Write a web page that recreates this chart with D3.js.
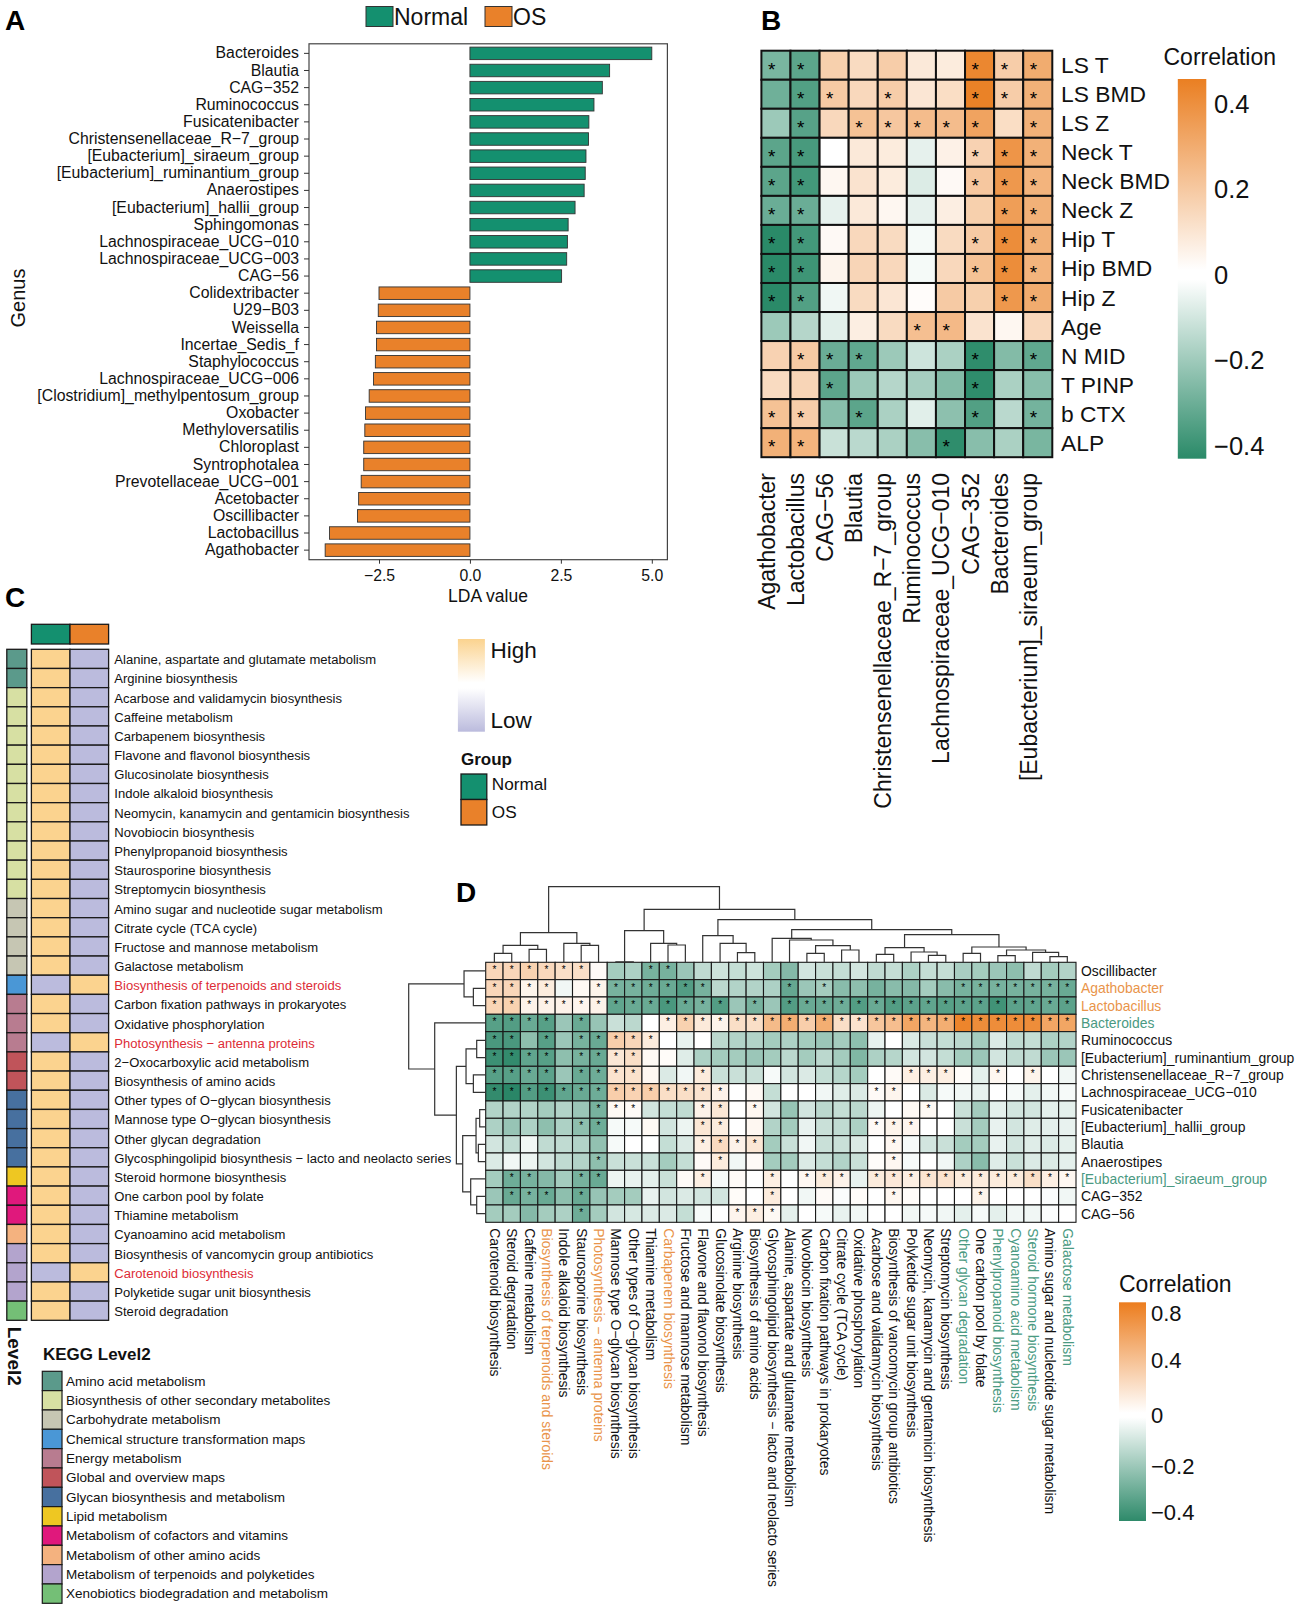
<!DOCTYPE html>
<html><head><meta charset="utf-8">
<script src="https://d3js.org/d3.v7.min.js"></script>
<style>
html,body{margin:0;padding:0;background:#fff}
text{font-family:"Liberation Sans",Arial,sans-serif;fill:#111}
</style></head><body>
<script>
// ---------- Panel A ----------
const ldaGenera=["Bacteroides","Blautia","CAG−352","Ruminococcus","Fusicatenibacter","Christensenellaceae_R−7_group","[Eubacterium]_siraeum_group","[Eubacterium]_ruminantium_group","Anaerostipes","[Eubacterium]_hallii_group","Sphingomonas","Lachnospiraceae_UCG−010","Lachnospiraceae_UCG−003","CAG−56","Colidextribacter","U29−B03","Weissella","Incertae_Sedis_f","Staphylococcus","Lachnospiraceae_UCG−006","[Clostridium]_methylpentosum_group","Oxobacter","Methyloversatilis","Chloroplast","Syntrophotalea","Prevotellaceae_UCG−001","Acetobacter","Oscillibacter","Lactobacillus","Agathobacter"];
const ldaValues=[5.0,3.84,3.64,3.41,3.27,3.26,3.19,3.17,3.14,2.89,2.70,2.68,2.66,2.52,-2.5,-2.52,-2.57,-2.57,-2.60,-2.65,-2.77,-2.87,-2.89,-2.92,-2.92,-2.99,-3.06,-3.09,-3.86,-3.98];
const ldaTicks=[-2.5,0,2.5,5];
const groupNames=["Normal","OS"];
const groupColors=["#14906f","#e9812a"];

// ---------- Panel B ----------
const corrRows=["LS T","LS BMD","LS Z","Neck T","Neck BMD","Neck Z","Hip T","Hip BMD","Hip Z","Age","N MID","T PINP","b CTX","ALP"];
const corrCols=["Agathobacter","Lactobacillus","CAG−56","Blautia","Christensenellaceae_R−7_group","Ruminococcus","Lachnospiraceae_UCG−010","CAG−352","Bacteroides","[Eubacterium]_siraeum_group"];
const corrValues=[
[-.27,-.33,.17,.13,.18,.08,.07,.43,.18,.30],
[-.29,-.35,.19,.14,.18,.09,.12,.45,.18,.28],
[-.20,-.34,.14,.22,.20,.24,.24,.33,.12,.28],
[-.33,-.37,0,.08,.07,-.05,.05,.16,.38,.28],
[-.33,-.38,.03,.10,.07,-.07,.02,.20,.37,.27],
[-.30,-.30,-.05,.08,.03,-.05,.06,.17,.35,.28],
[-.43,-.38,.02,.14,.13,-.02,.13,.19,.41,.28],
[-.43,-.39,.04,.15,.14,-.02,.14,.22,.41,.27],
[-.43,-.35,-.03,.13,.09,.01,.19,.17,.37,.30],
[-.20,-.15,-.06,.06,.13,.23,.25,.10,.03,.14],
[.16,.19,-.30,-.32,-.20,-.10,-.17,-.42,-.25,-.32],
[.13,.15,-.33,-.20,-.15,-.18,-.25,-.42,-.17,-.24],
[.22,.18,-.24,-.33,-.17,-.06,-.23,-.35,-.14,-.28],
[.28,.27,-.11,-.14,-.17,-.24,-.42,-.24,-.17,-.27]];
const corrStars=[[0,1,7,8,9],[1,2,4,7,8,9],[1,3,4,5,6,7,9],[0,1,7,8,9],[0,1,7,8,9],[0,1,8,9],[0,1,7,8,9],[0,1,7,8,9],[0,1,8,9],[5,6],[1,2,3,7,9],[2,7],[0,1,3,7,9],[0,1,6]];
const corrTicks=[0.4,0.2,0,-0.2,-0.4];

// ---------- Panel C ----------
const pathways=["Alanine, aspartate and glutamate metabolism","Arginine biosynthesis","Acarbose and validamycin biosynthesis","Caffeine metabolism","Carbapenem biosynthesis","Flavone and flavonol biosynthesis","Glucosinolate biosynthesis","Indole alkaloid biosynthesis","Neomycin, kanamycin and gentamicin biosynthesis","Novobiocin biosynthesis","Phenylpropanoid biosynthesis","Staurosporine biosynthesis","Streptomycin biosynthesis","Amino sugar and nucleotide sugar metabolism","Citrate cycle (TCA cycle)","Fructose and mannose metabolism","Galactose metabolism","Biosynthesis of terpenoids and steroids","Carbon fixation pathways in prokaryotes","Oxidative phosphorylation","Photosynthesis − antenna proteins","2−Oxocarboxylic acid metabolism","Biosynthesis of amino acids","Other types of O−glycan biosynthesis","Mannose type O−glycan biosynthesis","Other glycan degradation","Glycosphingolipid biosynthesis − lacto and neolacto series","Steroid hormone biosynthesis","One carbon pool by folate","Thiamine metabolism","Cyanoamino acid metabolism","Biosynthesis of vancomycin group antibiotics","Carotenoid biosynthesis","Polyketide sugar unit biosynthesis","Steroid degradation"];
const pathwayLevel=[0,0,1,1,1,1,1,1,1,1,1,1,1,2,2,2,2,3,4,4,4,5,5,6,6,6,6,7,8,8,9,10,10,10,11];
const pathwayHigherInOS=[17,20,32];
const keggNames=["Amino acid metabolism","Biosynthesis of other secondary metabolites","Carbohydrate metabolism","Chemical structure transformation maps","Energy metabolism","Global and overview maps","Glycan biosynthesis and metabolism","Lipid metabolism","Metabolism of cofactors and vitamins","Metabolism of other amino acids","Metabolism of terpenoids and polyketides","Xenobiotics biodegradation and metabolism"];
const keggColors=["#5b9a8b","#d7e0a3","#c6c6b3","#4a97d6","#b87c90","#c0545a","#47709f","#eec722","#e0187c","#f4b27f","#b3a4cd","#74bf76"];

// ---------- Panel D ----------
const funcRows=["Oscillibacter","Agathobacter","Lactobacillus","Bacteroides","Ruminococcus","[Eubacterium]_ruminantium_group","Christensenellaceae_R−7_group","Lachnospiraceae_UCG−010","Fusicatenibacter","[Eubacterium]_hallii_group","Blautia","Anaerostipes","[Eubacterium]_siraeum_group","CAG−352","CAG−56"];
const funcRowColors=["#111","#e9944a","#e9944a","#4a9a82","#111","#111","#111","#111","#111","#111","#111","#111","#4a9a82","#111","#111"];
const funcCols=["Carotenoid biosynthesis","Steroid degradation","Caffeine metabolism","Biosynthesis of terpenoids and steroids","Indole alkaloid biosynthesis","Staurosporine biosynthesis","Photosynthesis − antenna proteins","Mannose type O−glycan biosynthesis","Other types of O−glycan biosynthesis","Thiamine metabolism","Carbapenem biosynthesis","Fructose and mannose metabolism","Flavone and flavonol biosynthesis","Glucosinolate biosynthesis","Arginine biosynthesis","Biosynthesis of amino acids","Glycosphingolipid biosynthesis − lacto and neolacto series","Alanine, aspartate and glutamate metabolism","Novobiocin biosynthesis","Carbon fixation pathways in prokaryotes","Citrate cycle (TCA cycle)","Oxidative phosphorylation","Acarbose and validamycin biosynthesis","Biosynthesis of vancomycin group antibiotics","Polyketide sugar unit biosynthesis","Neomycin, kanamycin and gentamicin biosynthesis","Streptomycin biosynthesis","Other glycan degradation","One carbon pool by folate","Phenylpropanoid biosynthesis","Cyanoamino acid metabolism","Steroid hormone biosynthesis","Amino sugar and nucleotide sugar metabolism","Galactose metabolism"];
const funcColOrange=[3,6,10];
const funcColGreen=[27,29,30,31,33];
const funcValues=[
[.25,.25,.28,.24,.20,.20,.03,-.20,-.18,-.30,-.30,-.22,-.14,-.11,-.13,-.11,-.20,-.27,-.10,-.12,-.13,-.10,-.14,-.13,-.18,-.13,-.13,-.19,-.20,-.22,-.25,-.14,-.20,-.17],
[.25,.25,.07,.12,-.03,.04,.07,-.30,-.30,-.32,-.33,-.38,-.30,-.15,-.17,-.17,-.18,-.34,-.22,-.20,-.26,-.25,-.30,-.26,-.27,-.20,-.26,-.30,-.30,-.30,-.30,-.30,-.30,-.33],
[.26,.28,.08,.08,.08,.06,.08,-.35,-.33,-.33,-.40,-.33,-.30,-.38,-.22,-.30,-.22,-.38,-.33,-.33,-.32,-.38,-.33,-.38,-.36,-.35,-.37,-.36,-.36,-.42,-.36,-.35,-.33,-.36],
[-.37,-.38,-.33,-.37,-.22,-.33,-.23,-.12,-.15,0,.10,.28,.13,.07,.20,.20,.42,.50,.30,.50,.20,.17,.35,.40,.55,.45,.50,.75,.70,.70,.70,.70,.55,.55],
[-.40,-.40,-.25,-.37,-.22,-.30,-.33,.30,.25,.12,0,-.05,0,-.15,-.17,-.17,-.20,-.18,-.20,-.22,-.20,-.25,-.05,0,-.08,-.12,-.13,-.15,-.20,-.08,-.14,-.13,-.18,-.17],
[-.43,-.45,-.35,-.37,-.25,-.30,-.33,.15,.20,.04,.02,-.07,-.18,-.20,-.20,-.22,-.20,-.15,-.20,-.15,-.20,-.28,-.18,-.16,-.10,-.10,-.13,-.20,-.22,-.10,-.14,-.14,-.22,-.22],
[-.37,-.37,-.33,-.36,-.22,-.33,-.32,.17,.18,.05,-.08,-.03,.12,-.12,-.12,-.12,-.02,-.10,-.08,-.13,-.16,-.20,0,.03,.10,.10,.10,.02,-.06,.05,0,.07,0,-.03],
[-.45,-.47,-.38,-.43,-.35,-.33,-.32,.30,.27,.30,.20,.20,.17,.08,0,.04,-.13,0,0,-.03,-.07,-.08,.03,.06,0,-.08,-.02,-.03,-.05,0,-.02,-.06,-.03,-.02],
[-.17,-.17,-.17,-.20,-.17,-.22,-.30,.04,.03,-.10,-.13,-.14,.08,.15,0,.05,-.10,-.23,-.10,-.15,-.13,-.15,-.04,0,.04,.04,0,-.12,-.20,-.06,-.10,-.10,-.06,-.06],
[-.18,-.23,-.18,-.25,-.18,-.25,-.32,-.02,-.02,.04,-.10,-.04,.15,.12,0,.05,-.17,-.20,-.05,-.12,-.14,-.18,.03,.07,.06,0,0,-.12,-.20,-.05,-.10,-.07,-.06,-.05],
[-.10,-.14,-.03,-.14,-.14,-.17,-.24,-.02,0,0,-.13,-.08,.10,.22,.08,.15,-.20,-.12,-.03,-.12,-.12,-.08,0,.05,-.02,-.10,-.12,-.20,-.20,-.05,-.10,-.07,-.08,-.06],
[-.08,-.03,-.04,-.10,-.14,-.17,-.25,-.12,-.12,-.12,-.20,-.13,.03,.12,-.03,.03,-.20,-.20,-.08,-.13,-.17,-.12,.02,.05,-.02,0,-.03,-.18,-.26,-.07,-.12,-.08,-.08,-.06],
[-.20,-.32,-.30,-.27,-.20,-.30,-.33,-.04,-.05,-.06,-.12,.03,.10,-.02,.03,0,.10,0,.05,.12,.08,-.05,.12,.14,.10,.16,.17,.12,.12,.12,.12,.20,.10,.05],
[-.22,-.33,-.30,-.33,-.25,-.33,-.23,-.20,-.20,-.05,-.10,-.08,-.10,-.10,.02,0,.12,0,-.03,.03,-.01,.02,0,.05,.02,0,0,0,.07,0,0,0,-.01,-.03],
[-.20,-.20,-.27,-.20,-.18,-.32,-.20,-.10,-.09,-.08,-.08,-.13,-.02,0,.06,.10,.04,-.06,0,-.02,-.05,-.03,0,0,-.03,-.02,-.03,-.06,-.02,-.06,-.03,-.03,-.01,0]];
const funcStars=[
[0,1,2,3,4,5,9,10],
[0,1,2,3,6,7,8,9,10,11,12,17,19,27,28,29,30,31,32,33],
[0,1,2,3,4,5,6,7,8,9,10,11,12,13,15,17,18,19,20,21,22,23,24,25,26,27,28,29,30,31,32,33],
[0,1,2,3,5,10,11,12,13,14,15,16,17,18,19,20,21,22,23,24,25,26,27,28,29,30,31,32,33],
[0,1,3,5,6,7,8,9],
[0,1,2,3,5,6,7,8],
[0,1,2,3,5,6,7,8,12,24,25,26,29,31],
[0,1,2,3,4,5,6,7,8,9,10,11,12,13,22,23],
[6,7,8,12,13,15,25],
[5,6,12,13,22,23,24],
[12,13,14,15,23],
[6,13,23],
[1,2,5,6,12,16,18,19,20,22,23,24,25,26,27,28,29,30,31,32,33],
[1,2,3,5,16,23,28],
[5,14,15,16]];
// dendrograms: [merge height, left, right]; a number is a leaf index
const colTree=[227,
 [89,[51,[27,0,1],[39,2,3]],[57,4,[51,5,6]]],
 [159,
  [95,[1,7,8],[57,9,[52,10,11]]],
  [128,
   [80,12,[57,13,[29,14,15]]],
   [98,
    [72,16,[67,17,[50,[27,18,19],[37,20,21]]]],
    [83,
     [44,[24,22,23],[31,24,[21,25,26]]],
     [46,[27,27,28],[37,[20,29,30],[30,31,[17,32,33]]]]]]]]];
const rowTree=[231,
 [65,0,[37,1,2]],
 [153,3,[88,
   [59,[27,4,5],[37,6,7]],
   [69,[29,[18,8,9],[22,10,11]],[45,12,[27,13,14]]]]]];
const funcTicks=[0.8,0.4,0,-0.2,-0.4];
const funcTickRows=[1313.3,1360,1415,1466,1511.7];

// ---------- drawing ----------
const W=1299,H=1610;
const svg=d3.select("body").append("svg").attr("width",W).attr("height",H).attr("viewBox",`0 0 ${W} ${H}`).style("display","block");
const defs=svg.append("defs");
function txt(g,x,y,t,size,o={}){
  const s=g.append("text").attr("x",x).attr("y",y).attr("font-size",size).text(t);
  if(o.anchor)s.attr("text-anchor",o.anchor);
  if(o.bold)s.attr("font-weight","bold");
  if(o.fill)s.style("fill",o.fill);
  if(o.rot!==undefined)s.attr("transform",`rotate(${o.rot} ${x} ${y})`);
  return s;
}
function vGradient(id,stops){
  const g=defs.append("linearGradient").attr("id",id).attr("x1",0).attr("x2",0).attr("y1",0).attr("y2",1);
  stops.forEach(([o,c])=>g.append("stop").attr("offset",o).attr("stop-color",c));
}
const minusFmt=d=>d===0?"0":d3.format(".1f")(d);
const corrGreen="#2a8a68",corrOrange="#ea7f22";
// panel letters
[["A",5,30],["B",761,30],["C",5,607],["D",456,902]].forEach(([t,x,y])=>txt(svg,x,y,t,28,{bold:true,fill:"#000"}));

// ---- A ----
(function(){
  const g=svg.append("g");
  const L=309,R=667.4,T=43.8,B=559.7;
  const x=d3.scaleLinear().domain([-2.5,5]).range([379,651.8]);
  const y=d3.scaleBand().domain(ldaGenera).range([44.8,558.7]).paddingInner(.27).paddingOuter(.135);
  g.selectAll("rect.bar").data(ldaGenera).join("rect").attr("class","bar")
    .attr("x",(d,i)=>x(Math.min(0,ldaValues[i]))).attr("width",(d,i)=>Math.abs(x(ldaValues[i])-x(0)))
    .attr("y",d=>y(d)).attr("height",y.bandwidth())
    .attr("fill",(d,i)=>ldaValues[i]>0?groupColors[0]:groupColors[1]).attr("stroke","#333").attr("stroke-width",.9);
  g.append("rect").attr("x",L).attr("y",T).attr("width",R-L).attr("height",B-T).attr("fill","none").attr("stroke","#444").attr("stroke-width",1.2);
  const ax=g.append("g").attr("transform",`translate(0,${B})`).call(d3.axisBottom(x).tickValues(ldaTicks).tickFormat(d3.format(".1f")).tickSize(4).tickPadding(6));
  const ay=g.append("g").attr("transform",`translate(${L},0)`).call(d3.axisLeft(y).tickSize(5).tickPadding(5));
  [ax,ay].forEach(a=>{a.select(".domain").remove();a.selectAll("text").attr("font-size",15.8).attr("font-family",null);a.selectAll("line").attr("stroke","#333");});
  txt(g,488,602,"LDA value",17.5,{anchor:"middle"});
  txt(g,25,298,"Genus",20,{anchor:"middle",rot:-90});
  groupNames.forEach((n,i)=>{
    const sx=[366,485][i];
    g.append("rect").attr("x",sx).attr("y",6.5).attr("width",27).attr("height",20).attr("fill",groupColors[i]).attr("stroke","#333");
    txt(g,sx+28,24.5,n,23);
  });
})();

// ---- B ----
(function(){
  const g=svg.append("g");
  const color=d3.scaleLinear().domain([-.43,0,.46]).range([corrGreen,"#fff",corrOrange]).clamp(true);
  const x=d3.scaleBand().domain(corrCols).range([761.4,1052.3]);
  const y=d3.scaleBand().domain(corrRows).range([50.7,457.2]);
  corrRows.forEach((r,i)=>{
    g.selectAll(null).data(corrCols).join("rect").attr("x",d=>x(d)).attr("y",y(r)).attr("width",x.bandwidth()).attr("height",y.bandwidth())
      .attr("fill",(d,j)=>color(corrValues[i][j])).attr("stroke","#111").attr("stroke-width",2);
    corrStars[i].forEach(j=>txt(g,x(corrCols[j])+x.bandwidth()/2-4.3,y(r)+y.bandwidth()/2+10.5,"*",19,{anchor:"middle",fill:"#000"}));
    txt(g,1061,y(r)+y.bandwidth()/2+8,r,22.8);
  });
  corrCols.forEach(c=>txt(g,x(c)+x.bandwidth()/2-1,473,c,23,{anchor:"end",rot:-90}));
  txt(g,1163.5,65,"Correlation",23);
  const lg=d3.scaleLinear().domain([.4,-.4]).range([104,445.7]);
  const top=79,bot=458.7;
  const off=(lg(0)-top)/(bot-top);
  vGradient("gradB",[[0,corrOrange],[off-.012,"#fff"],[off+.012,"#fff"],[1,corrGreen]]);
  g.append("rect").attr("x",1177.8).attr("y",top).attr("width",28.5).attr("height",bot-top).attr("fill","url(#gradB)");
  corrTicks.forEach(t=>txt(g,1214,lg(t)+9,minusFmt(t).replace("-","−"),25.5));
})();

// ---- C ----
(function(){
  const g=svg.append("g");
  const T=649.3,B=1320.3;
  const y=d3.scaleBand().domain(pathways).range([T,B]);
  const x=d3.scaleBand().domain(groupNames).range([31.4,108.6]);
  const hl=d3.scaleOrdinal().domain(["high","low"]).range(["#fbd38f","#bbbbdd"]);
  g.selectAll(null).data(pathways).join("rect").attr("x",6.8).attr("width",20).attr("y",d=>y(d)).attr("height",y.bandwidth())
    .attr("fill",(d,i)=>keggColors[pathwayLevel[i]]).attr("stroke","#1a1a1a").attr("stroke-width",1.3);
  groupNames.forEach((n,k)=>{
    g.append("rect").attr("x",x(n)).attr("y",624.3).attr("width",x.bandwidth()).attr("height",19.7).attr("fill",groupColors[k]).attr("stroke","#1a1a1a").attr("stroke-width",1.3);
    g.selectAll(null).data(pathways).join("rect").attr("x",x(n)).attr("width",x.bandwidth()).attr("y",d=>y(d)).attr("height",y.bandwidth())
      .attr("fill",(d,i)=>{const os=pathwayHigherInOS.includes(i);return hl((k===1)===os?"high":"low");}).attr("stroke","#1a1a1a").attr("stroke-width",1.3);
  });
  pathways.forEach((p,i)=>txt(g,114.3,y(p)+y.bandwidth()/2+5.4,p,13.05,{fill:pathwayHigherInOS.includes(i)?"#dd2c36":"#111"}));
  txt(g,8,1326.7,"Level2",19,{bold:true,rot:90});
  txt(g,43,1360,"KEGG Level2",17,{bold:true});
  const ky=d3.scaleBand().domain(keggNames).range([1371.3,1603.3]);
  g.selectAll(null).data(keggNames).join("rect").attr("x",42.3).attr("width",19.7).attr("y",d=>ky(d)).attr("height",ky.bandwidth())
    .attr("fill",(d,i)=>keggColors[i]).attr("stroke","#1a1a1a").attr("stroke-width",1.2);
  keggNames.forEach(k=>txt(g,66,ky(k)+ky.bandwidth()/2+4.6,k,13.5));
  vGradient("gradC",[[0,"#fbd38f"],[.47,"#fff"],[.53,"#fff"],[1,"#bbbbdd"]]);
  g.append("rect").attr("x",457.9).attr("y",639).attr("width",27).attr("height",92.7).attr("fill","url(#gradC)");
  txt(g,490.4,658,"High",22.5);
  txt(g,490.4,728,"Low",22.5);
  txt(g,461,765,"Group",17,{bold:true});
  const gy=d3.scaleBand().domain(groupNames).range([774,825]);
  groupNames.forEach((n,i)=>{
    g.append("rect").attr("x",461).attr("y",gy(n)).attr("width",25.8).attr("height",gy.bandwidth()).attr("fill",groupColors[i]).attr("stroke","#1a1a1a").attr("stroke-width",1.3);
    txt(g,491.8,[790,817.5][i],n,17.2);
  });
})();

// ---- D ----
(function(){
  const g=svg.append("g");
  const L=485.7,R=1076,T=962.3,B=1222.3;
  const color=d3.scaleLinear().domain([-.47,0,.8]).range(["#2a8667","#fff","#ec7d1e"]).clamp(true);
  const x=d3.scaleBand().domain(funcCols).range([L,R]);
  const y=d3.scaleBand().domain(funcRows).range([T,B]);
  funcRows.forEach((r,i)=>{
    g.selectAll(null).data(funcCols).join("rect").attr("x",d=>x(d)).attr("y",y(r)).attr("width",x.bandwidth()).attr("height",y.bandwidth())
      .attr("fill",(d,j)=>color(funcValues[i][j])).attr("stroke","#1a1a1a").attr("stroke-width",1.1);
    funcStars[i].forEach(j=>txt(g,x(funcCols[j])+x.bandwidth()/2,y(r)+11,"*",10,{anchor:"middle",fill:"#000"}));
    txt(g,1081,y(r)+y.bandwidth()/2+5,r,13.9,{fill:funcRowColors[i]});
  });
  funcCols.forEach((c,j)=>{
    const fill=funcColOrange.includes(j)?"#e9944a":funcColGreen.includes(j)?"#4a9a82":"#111";
    txt(g,x(c)+x.bandwidth()/2-4.5,1228.3,c,13.9,{rot:90,fill});
  });
  const hTop=d3.scaleLinear().domain([0,227]).range([T,886.7]);
  const hLeft=d3.scaleLinear().domain([0,231]).range([L,408.7]);
  const treePaths=[];
  function walk(node,leafPos,hPos,horizontal){
    if(typeof node==="number")return {p:leafPos(node),h:hPos(0)};
    const a=walk(node[1],leafPos,hPos,horizontal),b=walk(node[2],leafPos,hPos,horizontal),h=hPos(node[0]);
    treePaths.push(horizontal?`M${a.p},${a.h}V${h}H${b.p}V${b.h}`:`M${a.h},${a.p}H${h}V${b.p}H${b.h}`);
    return {p:(a.p+b.p)/2,h};
  }
  walk(colTree,i=>x(funcCols[i])+x.bandwidth()/2,hTop,true);
  walk(rowTree,i=>y(funcRows[i])+y.bandwidth()/2,hLeft,false);
  g.append("g").selectAll("path").data(treePaths).join("path").attr("d",d=>d).attr("fill","none").attr("stroke","#333").attr("stroke-width",1.2);
  txt(g,1119,1291.7,"Correlation",23);
  const lp=d3.scaleLinear().domain(funcTicks.slice().reverse()).range(funcTickRows.slice().reverse());
  const top=1302.3,bot=1521;
  const off=(lp(0)-top)/(bot-top);
  vGradient("gradD",[[0,"#ec7d1e"],[off-.01,"#fff"],[off+.01,"#fff"],[1,"#2e8a6a"]]);
  g.append("rect").attr("x",1119).attr("y",top).attr("width",27).attr("height",bot-top).attr("fill","url(#gradD)");
  funcTicks.forEach(t=>txt(g,1151,lp(t)+8,minusFmt(t).replace("-","−"),22));
})();
</script>
</body></html>
